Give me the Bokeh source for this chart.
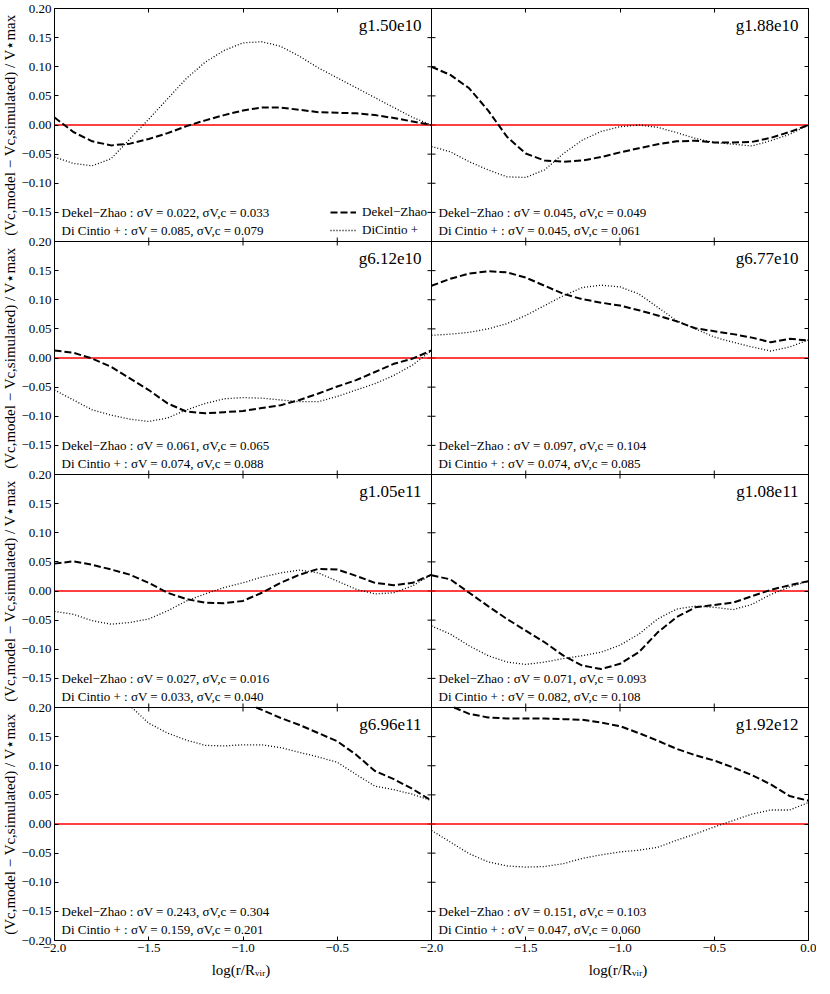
import math
from bokeh.plotting import figure
from bokeh.layouts import row, column
from bokeh.models import Range1d, LinearAxis, FixedTicker, Span, Label, Legend, LegendItem
from bokeh.core.properties import value
from bokeh.embed import file_html
from bokeh.resources import INLINE

# ---------------- data ----------------
X = [-2.0, -1.9, -1.8, -1.7, -1.6, -1.5, -1.4, -1.3, -1.2, -1.1, -1.0,
     -0.9, -0.8, -0.7, -0.6, -0.5, -0.4, -0.3, -0.2, -0.1, 0.0]

GALAXIES = ["g1.50e10", "g1.88e10", "g6.12e10", "g6.77e10",
            "g1.05e11", "g1.08e11", "g6.96e11", "g1.92e12"]

DZ_SIGMA_V = [0.022, 0.045, 0.061, 0.097, 0.027, 0.071, 0.243, 0.151]
DZ_SIGMA_VC = [0.033, 0.049, 0.065, 0.104, 0.016, 0.093, 0.304, 0.103]
DC_SIGMA_V = [0.085, 0.045, 0.074, 0.074, 0.033, 0.082, 0.159, 0.047]
DC_SIGMA_VC = [0.079, 0.061, 0.088, 0.085, 0.040, 0.108, 0.201, 0.060]

# Dekel-Zhao (dashed) and DiCintio+ (dotted) residuals
dz_g150e10 = [0.013, -0.012, -0.028, -0.035, -0.032, -0.024, -0.014, -0.002, 0.008, 0.017, 0.025,
              0.030, 0.030, 0.026, 0.022, 0.021, 0.020, 0.017, 0.012, 0.006, 0.000]
dc_g150e10 = [-0.055, -0.066, -0.070, -0.058, -0.024, 0.010, 0.045, 0.080, 0.108, 0.128, 0.141,
              0.143, 0.135, 0.118, 0.098, 0.081, 0.064, 0.047, 0.030, 0.013, 0.000]

dz_g188e10 = [0.100, 0.086, 0.063, 0.025, -0.020, -0.049, -0.061, -0.063, -0.061, -0.055, -0.047,
              -0.040, -0.033, -0.028, -0.027, -0.030, -0.030, -0.029, -0.022, -0.012, 0.000]
dc_g188e10 = [-0.037, -0.046, -0.063, -0.077, -0.089, -0.090, -0.077, -0.049, -0.026, -0.011, -0.003,
              0.000, -0.004, -0.013, -0.023, -0.030, -0.033, -0.036, -0.027, -0.016, 0.000]

dz_g612e10 = [0.013, 0.009, -0.001, -0.015, -0.035, -0.055, -0.078, -0.092, -0.095, -0.093, -0.091,
              -0.086, -0.081, -0.072, -0.061, -0.049, -0.038, -0.024, -0.010, -0.001, 0.013]
dc_g612e10 = [-0.055, -0.072, -0.089, -0.098, -0.105, -0.109, -0.103, -0.089, -0.078, -0.070, -0.068,
              -0.069, -0.072, -0.075, -0.075, -0.066, -0.055, -0.044, -0.030, -0.012, 0.013]

dz_g677e10 = [0.124, 0.136, 0.145, 0.149, 0.147, 0.138, 0.124, 0.110, 0.101, 0.095, 0.090,
              0.082, 0.073, 0.063, 0.051, 0.046, 0.041, 0.035, 0.027, 0.033, 0.030]
dc_g677e10 = [0.039, 0.041, 0.044, 0.050, 0.059, 0.073, 0.090, 0.107, 0.121, 0.125, 0.122,
              0.110, 0.087, 0.064, 0.050, 0.036, 0.027, 0.019, 0.012, 0.019, 0.031]

dz_g105e11 = [0.047, 0.051, 0.045, 0.037, 0.028, 0.014, -0.003, -0.014, -0.020, -0.021, -0.017,
              -0.003, 0.014, 0.028, 0.038, 0.037, 0.026, 0.014, 0.010, 0.014, 0.028]
dc_g105e11 = [-0.035, -0.040, -0.051, -0.057, -0.054, -0.048, -0.034, -0.017, -0.005, 0.006, 0.014,
              0.024, 0.031, 0.036, 0.031, 0.017, 0.003, -0.005, -0.003, 0.009, 0.028]

dz_g108e11 = [0.027, 0.020, -0.003, -0.026, -0.048, -0.068, -0.088, -0.111, -0.128, -0.134, -0.125,
              -0.105, -0.071, -0.045, -0.028, -0.024, -0.020, -0.009, 0.002, 0.010, 0.017]
dc_g108e11 = [-0.060, -0.074, -0.094, -0.111, -0.122, -0.126, -0.122, -0.116, -0.111, -0.105, -0.093,
              -0.074, -0.048, -0.031, -0.026, -0.028, -0.032, -0.023, -0.006, 0.007, 0.017]

# the last two galaxies leave the plotted window (> 0.20) at small radii: visible part only
dz_g696e11_x = [-0.93, -0.9, -0.8, -0.7, -0.6, -0.5, -0.4, -0.3, -0.2, -0.1, 0.0]
dz_g696e11 = [0.200, 0.196, 0.182, 0.170, 0.156, 0.142, 0.119, 0.091, 0.077, 0.060, 0.040]
dc_g696e11_x = [-1.59, -1.5, -1.4, -1.3, -1.2, -1.1, -1.0, -0.9, -0.8, -0.7, -0.6,
                -0.5, -0.4, -0.3, -0.2, -0.1, 0.0]
dc_g696e11 = [0.200, 0.173, 0.156, 0.144, 0.135, 0.134, 0.136, 0.136, 0.131, 0.123, 0.115,
              0.106, 0.085, 0.065, 0.059, 0.051, 0.040]

dz_g192e12_x = [-1.88, -1.8, -1.7, -1.6, -1.5, -1.4, -1.3, -1.2, -1.1, -1.0,
                -0.9, -0.8, -0.7, -0.6, -0.5, -0.4, -0.3, -0.2, -0.1, 0.0]
dz_g192e12 = [0.200, 0.189, 0.183, 0.181, 0.181, 0.181, 0.180, 0.179, 0.174, 0.168,
              0.156, 0.143, 0.129, 0.118, 0.109, 0.097, 0.084, 0.068, 0.048, 0.040]
dc_g192e12 = [-0.011, -0.031, -0.051, -0.065, -0.072, -0.074, -0.073, -0.068, -0.059, -0.053, -0.048,
              -0.045, -0.040, -0.028, -0.017, -0.005, 0.006, 0.017, 0.024, 0.024, 0.037]

DZ_X = [X, X, X, X, X, X, dz_g696e11_x, dz_g192e12_x]
DZ_Y = [dz_g150e10, dz_g188e10, dz_g612e10, dz_g677e10, dz_g105e11, dz_g108e11, dz_g696e11, dz_g192e12]
DC_X = [X, X, X, X, X, X, dc_g696e11_x, X]
DC_Y = [dc_g150e10, dc_g188e10, dc_g612e10, dc_g677e10, dc_g105e11, dc_g108e11, dc_g696e11, dc_g192e12]

X_TICKS = [-2.0, -1.5, -1.0, -0.5, 0.0]
Y_TICKS = [-0.20, -0.15, -0.10, -0.05, 0.00, 0.05, 0.10, 0.15, 0.20]
X_MIN, X_MAX = -2.0, 0.0
Y_MIN, Y_MAX = -0.2, 0.2

YLABEL = "(Vc,model \u2212 Vc,simulated) / V\u22c6max"
XLABEL = "log(r/R\u1d65\u1d62\u1d63)"

# ---------------- layout / style ----------------
FONT = "Liberation Serif"
N_ROWS, N_COLS = 4, 2
PANEL_W, PANEL_H = 377, 233
STRIP_W = 18          # strip holding the rotated y titles
LEFT_B = 34           # room for the y tick labels
RIGHT_B = 8
TOP_B = 8
BOTTOM_B = 20         # room for the x tick labels
XTITLE_H = 18


def fmt(v, nd):
    s = f"{v:.{nd}f}"
    if float(s) == 0:
        s = s.lstrip("-")
    return s.replace("-", "\u2212")


p = figure(frame_width=PANEL_W * N_COLS, frame_height=PANEL_H * N_ROWS,
           x_range=Range1d(0, N_COLS), y_range=Range1d(0, N_ROWS),
           x_axis_location=None, y_axis_location=None,
           output_backend="svg", toolbar_location=None,
           min_border_left=LEFT_B, min_border_right=RIGHT_B,
           min_border_top=TOP_B, min_border_bottom=BOTTOM_B)
p.xgrid.visible = False
p.ygrid.visible = False
p.outline_line_color = "black"
p.outline_line_width = 1
p.background_fill_color = "white"
p.border_fill_color = "white"

# per-panel data ranges (each panel column/row maps its own data range)
xspan = X_MAX - X_MIN
yspan = Y_MAX - Y_MIN
for c in range(N_COLS):
    p.extra_x_ranges[f"c{c}"] = Range1d(X_MIN - c * xspan, X_MIN + (N_COLS - c) * xspan)
for r in range(N_ROWS):
    top = Y_MAX + r * yspan
    p.extra_y_ranges[f"r{r}"] = Range1d(top - N_ROWS * yspan, top)

# tick positions in layout units, with labels
xt = {}
for c in range(N_COLS):
    for t in X_TICKS:
        xt[round(c + (t - X_MIN) / xspan, 6)] = fmt(t, 1)
yt = {}
for r in range(N_ROWS):
    for v in Y_TICKS:
        yt[round((N_ROWS - 1 - r) + (v - Y_MIN) / yspan, 6)] = fmt(v, 2)


def make_axis(ticks, overrides=None, standoff=4):
    ax = LinearAxis(ticker=FixedTicker(ticks=sorted(ticks)),
                    major_tick_in=4, major_tick_out=0,
                    minor_tick_in=0, minor_tick_out=0,
                    major_tick_line_color="black", axis_line_color=None)
    if overrides is not None:
        ax.major_label_overrides = overrides
        ax.major_label_text_font = FONT
        ax.major_label_text_font_size = "13px"
        ax.major_label_text_color = "black"
        ax.major_label_standoff = standoff
    else:
        ax.major_label_overrides = {k: "" for k in ticks}
        ax.major_label_text_font_size = "0px"
        ax.major_label_standoff = 0
    return ax


p.add_layout(make_axis(list(yt.keys()), yt, 3), "left")
p.add_layout(make_axis(list(yt.keys())), "right")
p.add_layout(make_axis(list(xt.keys()), xt, 3), "below")
p.add_layout(make_axis(list(xt.keys())), "above")

# interior panel borders
for c in range(1, N_COLS):
    p.add_layout(Span(location=c, dimension="height", line_color="black", line_width=1))
for r in range(1, N_ROWS):
    p.add_layout(Span(location=r, dimension="width", line_color="black", line_width=1))

# inward ticks on interior borders (they point into both neighbouring panels)
for c in range(1, N_COLS):
    ys_ = sorted(yt.keys())
    p.scatter(x=[c] * len(ys_), y=ys_, marker="dash", size=8, line_color="black", line_width=1)
for r in range(1, N_ROWS):
    xs_ = sorted(xt.keys())
    p.scatter(x=xs_, y=[r] * len(xs_), marker="dash", angle=math.pi / 2, size=8,
              line_color="black", line_width=1)

legend_renderers = None
for i, name in enumerate(GALAXIES):
    r, c = divmod(i, N_COLS)
    xr, yr = f"c{c}", f"r{r}"
    p.line([X_MIN, X_MAX], [0, 0], line_color="red", line_width=1.5,
           x_range_name=xr, y_range_name=yr)
    dz = p.line(DZ_X[i], DZ_Y[i], line_color="black", line_width=2, line_dash="7 3",
                x_range_name=xr, y_range_name=yr)
    dc = p.line(DC_X[i], DC_Y[i], line_color="black", line_width=1.3, line_dash="1 2",
                x_range_name=xr, y_range_name=yr)
    if i == 0:
        legend_renderers = (dz, dc)

    p.add_layout(Label(x=X_MAX, y=Y_MAX, x_offset=-10, y_offset=-7, text=name,
                       text_align="right", text_baseline="top", text_font=FONT,
                       text_font_size="17px", text_color="black",
                       x_range_name=xr, y_range_name=yr))
    line1 = f"Dekel\u2212Zhao : \u03c3V = {DZ_SIGMA_V[i]:.3f},  \u03c3V,c = {DZ_SIGMA_VC[i]:.3f}"
    line2 = f"Di Cintio + :  \u03c3V = {DC_SIGMA_V[i]:.3f},  \u03c3V,c = {DC_SIGMA_VC[i]:.3f}"
    p.add_layout(Label(x=X_MIN, y=Y_MIN, x_offset=7, y_offset=29, text=line1,
                       text_baseline="middle", text_font=FONT, text_font_size="13px",
                       text_color="black", x_range_name=xr, y_range_name=yr))
    p.add_layout(Label(x=X_MIN, y=Y_MIN, x_offset=7, y_offset=11, text=line2,
                       text_baseline="middle", text_font=FONT, text_font_size="13px",
                       text_color="black", x_range_name=xr, y_range_name=yr))

legend = Legend(items=[LegendItem(label="Dekel\u2212Zhao", renderers=[legend_renderers[0]]),
                       LegendItem(label="DiCintio +", renderers=[legend_renderers[1]])],
                location=(276, (N_ROWS - 1) * PANEL_H + 3),
                label_text_font=FONT, label_text_font_size="13px", label_text_color="black",
                glyph_width=26, glyph_height=16, label_height=16, spacing=2,
                padding=0, margin=0, label_standoff=6,
                background_fill_alpha=0, border_line_alpha=0)
p.add_layout(legend)

# ---- strip with the y titles (one per row) ----
ystrip = figure(frame_width=STRIP_W, frame_height=PANEL_H * N_ROWS,
                x_range=Range1d(0, 1), y_range=Range1d(0, N_ROWS),
                x_axis_location=None, y_axis_location=None,
                output_backend="svg", toolbar_location=None,
                min_border_left=0, min_border_right=0,
                min_border_top=TOP_B, min_border_bottom=BOTTOM_B)
ystrip.xgrid.visible = False
ystrip.ygrid.visible = False
ystrip.outline_line_color = None
ystrip.text(x=[0.5] * N_ROWS, y=[N_ROWS - r - 0.5 for r in range(N_ROWS)],
            text=[YLABEL] * N_ROWS, angle=math.pi / 2,
            text_align="center", text_baseline="middle",
            text_font=value(FONT), text_font_size="15px", text_color="black")

# ---- strip with the x titles (one per column) ----
xstrip = figure(frame_width=PANEL_W * N_COLS, frame_height=XTITLE_H,
                x_range=Range1d(0, N_COLS), y_range=Range1d(0, 1),
                x_axis_location=None, y_axis_location=None,
                output_backend="svg", toolbar_location=None,
                min_border_left=STRIP_W + LEFT_B, min_border_right=RIGHT_B,
                min_border_top=0, min_border_bottom=0)
xstrip.xgrid.visible = False
xstrip.ygrid.visible = False
xstrip.outline_line_color = None
xstrip.text(x=[c + 0.5 for c in range(N_COLS)], y=[0.5] * N_COLS,
            text=[XLABEL] * N_COLS, text_align="center", text_baseline="middle",
            text_font=value(FONT), text_font_size="15px", text_color="black")

page = column(row(ystrip, p, spacing=0), xstrip, spacing=0)

with open("out.html", "w") as f:
    f.write(file_html(page, INLINE))
